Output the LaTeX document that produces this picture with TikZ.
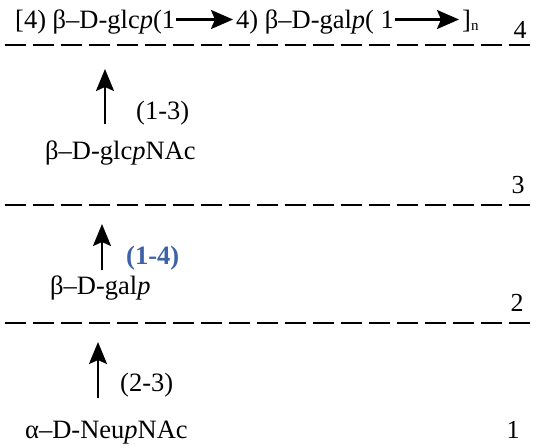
\documentclass[tikz,border=0pt]{standalone}
\usepackage{fontspec}
\setmainfont{Liberation Serif}
\usetikzlibrary{arrows.meta}
\definecolor{linkblue}{RGB}{62,98,168}
\tikzset{
  txt/.style={anchor=base west, inner sep=0pt, font=\fontsize{26.5}{30}\selectfont},
  lvl/.style={anchor=base, inner sep=0pt, font=\fontsize{26}{30}\selectfont},
  dashline/.style={line width=2.6pt, dash pattern=on 21pt off 7pt},
  uparrow/.style={line width=2.4pt, -{Stealth[length=22pt,width=18pt,inset=4pt]}},
  rarrow/.style={line width=2.6pt, -{Stealth[length=22pt,width=19pt,inset=4pt]}, shorten <=1pt, shorten >=3pt},
}
\begin{document}
\begin{tikzpicture}[x=1pt,y=-1pt]
\useasboundingbox[fill=white] (0,0) rectangle (537,447);
% top line
\node[txt] (t1) at (15,28) {[4) β–D-glc\textit{p}(1};
\node[txt] (t2) at (236,28) {4) β–D-gal\textit{p}( 1};
\node[txt] (t3) at (462,28) {]\raisebox{-2pt}{\fontsize{15}{17}\selectfont n}};
\draw[rarrow] ([yshift=8.5pt]t1.base east) -- ([yshift=8.5pt]t2.base west);
\draw[rarrow] ([yshift=8.5pt]t2.base east) -- ([yshift=8.5pt]t3.base west);
% level lines
\coordinate (l4a) at (5,45);  \coordinate (l4b) at (537,45);
\coordinate (l3a) at (5,205); \coordinate (l3b) at (537,205);
\coordinate (l2a) at (5,323); \coordinate (l2b) at (537,323);
\draw[dashline] (l4a) -- (l4b);
\draw[dashline] (l3a) -- (l3b);
\draw[dashline] (l2a) -- (l2b);
\node[lvl] (n4) at (520,38) {4};
\node[lvl] (n3) at (518,193) {3};
\node[lvl] (n2) at (517,311) {2};
\node[lvl] (n1) at (513,438) {1};
% residues
\node[txt] (glcnac) at (45,159) {β–D-glc\textit{p}NAc};
\node[txt] (gal) at (50,294) {β–D-gal\textit{p}};
\node[txt] (neu) at (25,438) {α–D-Neu\textit{p}NAc};
% linkage arrows
\coordinate (a1s) at (105,124); \coordinate (a1e) at (105,69);
\coordinate (a2s) at (102,270); \coordinate (a2e) at (102,224);
\coordinate (a3s) at (98,398);  \coordinate (a3e) at (98,342);
\draw[uparrow] (a1s) -- (a1e);
\draw[uparrow] (a2s) -- (a2e);
\draw[uparrow] (a3s) -- (a3e);
\node[txt] (k1) at (136,119) {(1-3)};
\node[txt, text=linkblue, font=\fontsize{26.5}{30}\selectfont\bfseries] (k2) at (126,264) {(1-4)};
\node[txt] (k3) at (120,391) {(2-3)};
\end{tikzpicture}
\end{document}
